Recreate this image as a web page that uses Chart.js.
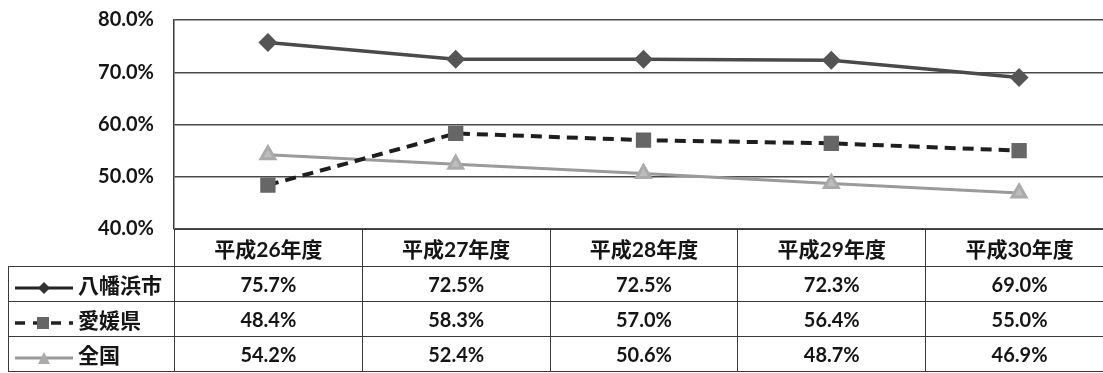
<!DOCTYPE html>
<html lang="ja">
<head>
<meta charset="utf-8">
<script src="https://cdn.jsdelivr.net/npm/chart.js@4/dist/chart.umd.min.js"></script>
<style>
  html, body { margin: 0; padding: 0; background: #fff; overflow: hidden; }
  #wrap { position: relative; width: 1113px; height: 373px; }
  #dataTable {
    position: absolute; top: 229px; left: 8px;
    border-collapse: collapse; table-layout: fixed;
    font-family: "Lato", "Noto Sans CJK JP", sans-serif;
    font-weight: bold; font-size: 20px; color: #151515;
  }
  #dataTable td { border: 1.5px solid #3a3a3a; text-align: center; padding: 0; white-space: nowrap; }
  #dataTable tr.head td { height: 36px; font-size: 21px; }
  #dataTable tr.head td.blank { border: none; border-right: 1.5px solid #3a3a3a; }
  #dataTable tr.row td { height: 34px; }
  #dataTable td.key { text-align: left; font-size: 21px; }
  #dataTable td.key svg { vertical-align: middle; margin: 0 3px 0 4px; }
</style>
</head>
<body>
<div id="wrap">
  <canvas id="rateChart" width="1113" height="373"></canvas>
  <table id="dataTable"></table>
</div>
<script>
// years (categories)
const years = ['平成26年度', '平成27年度', '平成28年度', '平成29年度', '平成30年度'];

// rates in %
const yawatahama = [75.7, 72.5, 72.5, 72.3, 69.0];
const ehime = [48.4, 58.3, 57.0, 56.4, 55.0];
const zenkoku = [54.2, 52.4, 50.6, 48.7, 46.9];

const seriesNames = ['八幡浜市', '愛媛県', '全国'];
const yTicks = [40, 50, 60, 70, 80];

const ctx = document.getElementById('rateChart').getContext('2d');

const chart = new Chart(ctx, {
    type: 'line',
    data: {
        labels: years,
        datasets: [
            {
                label: seriesNames[0],
                data: yawatahama,
                borderColor: '#4a4a4a',
                borderWidth: 3.5,
                pointStyle: 'rectRot',
                pointRadius: 7,
                pointBackgroundColor: '#555',
                pointBorderColor: '#555',
                tension: 0
            },
            {
                label: seriesNames[1],
                data: ehime,
                borderColor: '#1e1e1e',
                borderWidth: 4,
                borderDash: [11, 7],
                pointStyle: 'rect',
                pointRadius: 8,
                pointBackgroundColor: '#666',
                pointBorderColor: '#666',
                tension: 0
            },
            {
                label: seriesNames[2],
                data: zenkoku,
                borderColor: '#9a9a9a',
                borderWidth: 3,
                pointStyle: 'triangle',
                pointRadius: 8,
                pointBackgroundColor: '#bdbdbd',
                pointBorderColor: '#aaa',
                tension: 0
            }
        ]
    },
    options: {
        responsive: false,
        animation: false,
        layout: { autoPadding: false, padding: { left: 0, top: 20, right: 0, bottom: 144 } },
        plugins: { legend: { display: false }, tooltip: { enabled: false } },
        scales: {
            x: { display: false, offset: true },
            y: {
                min: 40,
                max: 80,
                afterFit: function(scale) {
                    scale.width = 174;
                    scale.paddingTop = 0;
                    scale.paddingBottom = 0;
                },
                afterBuildTicks: function(scale) {
                    scale.ticks = yTicks.map(v => ({ value: v }));
                },
                border: { display: true, color: '#3a3a3a', width: 1.5 },
                grid: { color: '#4a4a4a', lineWidth: 1.5, drawTicks: false },
                ticks: {
                    padding: 20,
                    color: '#151515',
                    font: { family: 'Lato', weight: 'bold', size: 20 },
                    callback: v => v.toFixed(1) + '%'
                }
            }
        }
    }
});

// legend key icons for the table's first column
function keyIcon(i) {
    if (i === 0) {
        return '<svg width="62" height="14"><line x1="2" y1="7" x2="60" y2="7" stroke="#222" stroke-width="3"/>' +
               '<polygon points="31,1 37,7 31,13 25,7" fill="#333"/></svg>';
    }
    if (i === 1) {
        return '<svg width="62" height="14"><line x1="2" y1="7" x2="60" y2="7" stroke="#222" stroke-width="3.5" stroke-dasharray="10,8"/>' +
               '<rect x="24" y="1" width="12" height="12" fill="#666"/></svg>';
    }
    return '<svg width="62" height="14"><line x1="2" y1="7" x2="60" y2="7" stroke="#999" stroke-width="3"/>' +
           '<polygon points="31,1 37,13 25,13" fill="#aaa"/></svg>';
}

// data table under the plot, columns aligned to the category scale
const xs = chart.scales.x;
const colW = (xs.right - xs.left) / years.length;
const table = document.getElementById('dataTable');
const keyW = xs.left - 8;

let html = '<colgroup><col style="width:' + keyW + 'px">';
years.forEach(() => { html += '<col style="width:' + colW + 'px">'; });
html += '</colgroup>';
html += '<tr class="head"><td class="blank"></td>' + years.map(y => '<td>' + y + '</td>').join('') + '</tr>';
[yawatahama, ehime, zenkoku].forEach((vals, i) => {
    html += '<tr class="row"><td class="key">' + keyIcon(i) + seriesNames[i] + '</td>' +
            vals.map(v => '<td>' + v.toFixed(1) + '%</td>').join('') + '</tr>';
});
table.innerHTML = html;
table.style.width = (keyW + colW * years.length) + 'px';
</script>
</body>
</html>
